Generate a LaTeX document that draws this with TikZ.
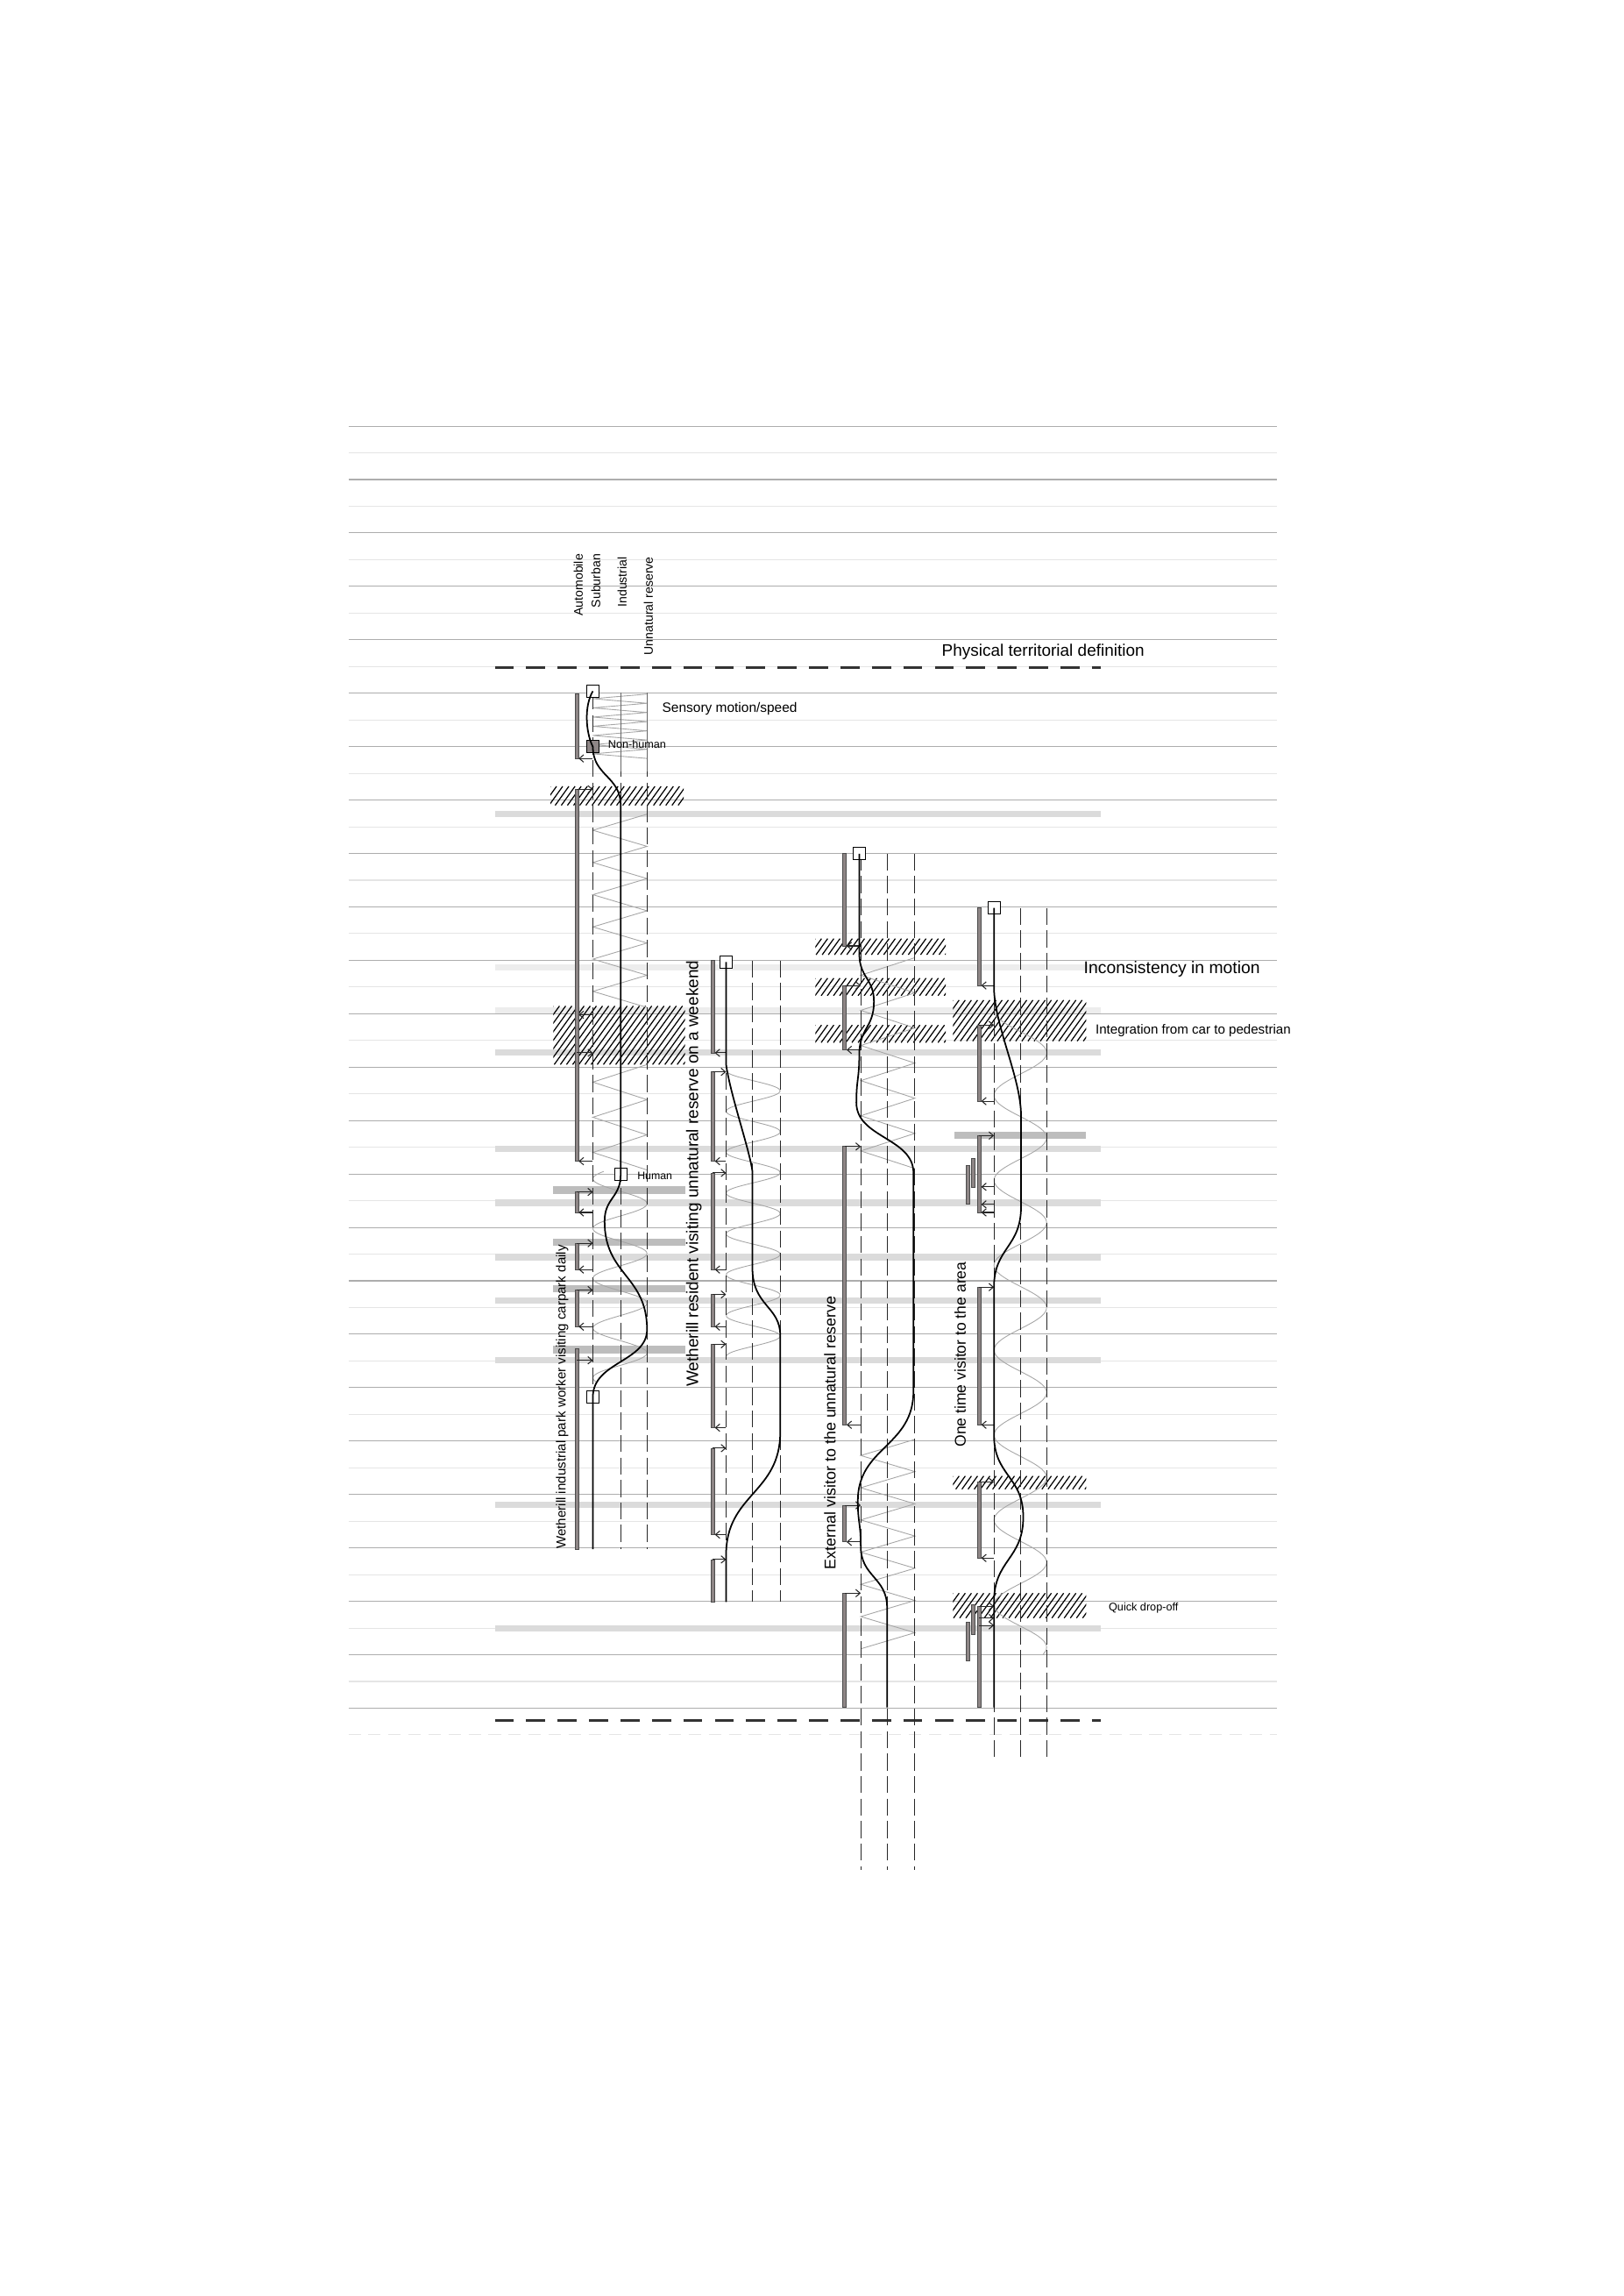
\documentclass[tikz,border=0pt]{standalone}
\usepackage{fontspec}
\setmainfont{Liberation Sans}
\usetikzlibrary{arrows.meta}

\definecolor{barfill}{HTML}{8E8686}

% car bar and its hand-overs to the suburban lane
\newcommand\carbar[3]{\filldraw[carbar] (#1-1.2,#2) rectangle (#1+1.2,#3);}
\newcommand\carout[3]{\draw[conn] (#1,#3) -- (#2,#3);}
\newcommand\carin[3]{\draw[conn] (#2,#3) -- (#1+1.3,#3);}
% hatched zone
\newcommand\hatchbox[4]{%
  \begin{scope}
    \clip (#1,#2) rectangle (#3,#4);
    \pgfmathsetmacro\hA{#1-0.72*(#4-#2)}
    \pgfmathsetmacro\hB{\hA+4.2}
    \foreach \k in {\hA,\hB,...,#3}
      \draw[hatchline] (\k,#4) -- ++({0.72*(#4-#2)},{-(#4-#2)});
  \end{scope}}
% sensory waves between suburban and reserve lanes
\newcommand\zigzag[5]{%
  \pgfmathtruncatemacro\zzn{#5+1}
  \draw[wave] plot[variable=\t, domain=0:#5, samples=\zzn]
    ({(#1+#2)/2+(#2-#1)/2*cos(180*\t)}, {#3+#4*\t});}
\newcommand\sinewave[6]{%
  \draw[wave] plot[variable=\t, domain=#3:#4, samples=140, smooth]
    ({(#1+#2)/2+(#2-#1)/2*cos((\t-#6)/#5*360)}, {\t});}

\begin{document}
\begin{tikzpicture}[
    x=0.167mm, y=-0.167mm,
    gridmajor/.style={draw=black!32, line width=0.3pt},
    gridminor/.style={draw=black!10, line width=0.3pt},
    border/.style={draw=black!80, line width=0.75pt, dash pattern=on 6.2pt off 4pt},
    lane/.style={draw=black!85, line width=0.3pt, dash pattern=on 5.5pt off 1.8pt},
    band/.style={fill=black!14},
    bandpale/.style={fill=black!7},
    banddark/.style={fill=black!26},
    carbar/.style={fill=barfill, draw=black!70, line width=0.2pt},
    conn/.style={draw=black!85, line width=0.3pt, -{Straight Barb[length=1.4pt,width=2.4pt]}},
    route/.style={draw=black, line width=0.5pt},
    wave/.style={draw=black!35, line width=0.25pt},
    hatchline/.style={draw=black, line width=0.35pt},
    stopbox/.style={draw=black, line width=0.35pt, fill=white, minimum size=1.4mm, inner sep=0pt},
    label/.style={inner sep=0pt, text=black}
]
\useasboundingbox (0,0) rectangle (1109,1568);
\fill[white] (0,0) rectangle (1109,1568);

% ground lines
\foreach \k in {0,...,48} {
  \pgfmathsetmacro\yy{291+18.24*\k}
  \ifodd\k\relax
    \draw[gridminor] (238,\yy) -- (872,\yy);
  \else
    \draw[gridmajor] (238,\yy) -- (872,\yy);
  \fi
}
\draw[gridminor, dash pattern=on 4pt off 2.5pt] (238,1184.7) -- (872,1184.7);

% physical territorial definition
\draw[border] (338,456) -- (752,456);
\draw[border] (338,1175) -- (752,1175);

% bands
\foreach \y in {555.7,718.6,784.5,821.5,858.6,888,929,1027.6,1112}
  \fill[band] (338,\y-2.2) rectangle (752,\y+2.2);
\foreach \y in {660.5,690}
  \fill[bandpale] (338,\y-2.2) rectangle (752,\y+2.2);
\foreach \y in {812.7,848.5,880,921.7}
  \fill[banddark] (378,\y-2.5) rectangle (468,\y+2.5);
\fill[banddark] (652,773) rectangle (742,778);

% hatched zones
\hatchbox{376}{537}{467}{550}
\hatchbox{378}{687}{468}{727}
\hatchbox{557}{641}{646}{652}
\hatchbox{557}{668}{646}{680}
\hatchbox{557}{700}{646}{712}
\hatchbox{651}{683}{742}{711}
\hatchbox{651}{1008}{742}{1017}
\hatchbox{651}{1088}{742}{1105}

% waves
\zigzag{405}{442}{474}{3.14}{14}
\zigzag{405}{442}{556}{11}{12}
\zigzag{405}{442}{727}{12}{6}
\sinewave{405}{442}{800}{944}{34}{856}
\sinewave{496}{533}{731}{926}{27.9}{745}
\zigzag{588}{625}{654}{12}{12}
\zigzag{588}{625}{983}{11}{13}
\sinewave{679}{715}{690}{1130}{58}{719}

% lanes
\foreach \x in {405,424,442} \draw[lane] (\x,473) -- (\x,1058);
\foreach \x in {424,442} \draw[black!60, line width=0.25pt] (\x,473) -- (\x,527);
\foreach \x in {496,514,533} \draw[lane] (\x,656) -- (\x,1094);
\foreach \x in {588,606,625} \draw[lane] (\x,583) -- (\x,1277);
\foreach \x in {679,697,715} \draw[lane] (\x,620) -- (\x,1202);

% car bars, park worker
\carbar{394}{474}{518} \carin{394}{405}{518}
\carbar{394}{539}{793} \carout{394}{405}{539} \carin{394}{405}{693}
\carout{394}{405}{719} \carin{394}{405}{793}
\carbar{394}{814}{828} \carout{394}{405}{814} \carin{394}{405}{828}
\carbar{394}{849}{867} \carout{394}{405}{849} \carin{394}{405}{867}
\carbar{394}{881}{906} \carout{394}{405}{881} \carin{394}{405}{906}
\carbar{394}{921}{1058} \carout{394}{405}{929}
% car bars, resident
\carbar{487}{656}{719} \carin{487}{496}{719}
\carbar{487}{732}{793} \carout{487}{496}{732} \carin{487}{496}{793}
\carbar{487}{801}{867} \carout{487}{496}{801} \carin{487}{496}{867}
\carbar{487}{884}{906} \carout{487}{496}{884} \carin{487}{496}{906}
\carbar{487}{918}{975} \carout{487}{496}{918} \carin{487}{496}{975}
\carbar{487}{989}{1048} \carout{487}{496}{989} \carin{487}{496}{1048}
\carbar{487}{1065}{1094} \carout{487}{496}{1065}
% car bars, external visitor
\carbar{577}{583}{646} \carin{577}{588}{646}
\carbar{577}{673}{717} \carout{577}{588}{673} \carin{577}{588}{717}
\carbar{577}{783}{973} \carout{577}{588}{783} \carin{577}{588}{973}
\carbar{577}{1028}{1053} \carout{577}{588}{1028} \carin{577}{588}{1053}
\carbar{577}{1088}{1166} \carout{577}{588}{1088}
% car bars, one time visitor
\carbar{669}{620}{673} \carin{669}{679}{673}
\carbar{669}{700}{752} \carout{669}{679}{700} \carin{669}{679}{752}
\carbar{669}{775.5}{828} \carout{669}{679}{775.5} \carin{669}{679}{810.5}
\carin{669}{679}{822.5} \carin{669}{679}{828}
\carbar{665}{791}{811} \carbar{661}{796}{822}
\carbar{669}{879}{973} \carout{669}{679}{879} \carin{669}{679}{973}
\carbar{669}{1012}{1064} \carout{669}{679}{1012} \carin{669}{679}{1064}
\carbar{669}{1097}{1166} \carout{669}{679}{1097} \carout{669}{679}{1105} \carout{669}{679}{1110}
\carbar{665}{1096}{1116} \carbar{661}{1108}{1134}

% stops
\node[stopbox] (wkstart) at (405,472) {};
\node[stopbox, fill=barfill] (wknonhuman) at (405,510) {};
\node[stopbox] (wkhuman) at (424,802) {};
\node[stopbox] (wkend) at (405,954) {};
\node[stopbox] (rsstart) at (496,657) {};
\node[stopbox] (exstart) at (587,583) {};
\node[stopbox] (otstart) at (679,620) {};

% routes
\draw[route] (wkstart.center) .. controls (399,482) and (400,500) .. (wknonhuman.center)
  .. controls (405,530) and (424,530) .. (424,550) -- (wkhuman.center)
  .. controls (424,818) and (413,818) .. (413,834)
  .. controls (413,871) and (442,871) .. (442,908)
  .. controls (442,930) and (405,930) .. (wkend.center) -- (405,1058);
\draw[route] (rsstart.center) -- (496,727) .. controls (499,748) and (512,785) .. (514,800)
  -- (514,866) .. controls (514,892) and (533,892) .. (533,912)
  -- (533,978) .. controls (533,1020) and (496,1020) .. (496,1062) -- (496,1094);
\draw[route] (exstart.center) -- (587,651) .. controls (587,668) and (597,668) .. (597,684)
  .. controls (597,702) and (587,702) .. (587,720)
  .. controls (587,737) and (585,737) .. (585,753)
  .. controls (585,777) and (624,777) .. (624,801) -- (624,950)
  .. controls (624,988) and (586,988) .. (586,1025)
  .. controls (586,1040) and (588,1040) .. (588,1056)
  .. controls (588,1077) and (606,1077) .. (606,1098) -- (606,1166);
\draw[route] (otstart.center) -- (679,674) .. controls (679,700) and (697.5,736) .. (697.5,762)
  -- (697.5,824) .. controls (697.5,852) and (679,852) .. (679,879)
  -- (679,980) .. controls (679,1008) and (699,1008) .. (699,1036)
  .. controls (699,1065) and (679,1065) .. (679,1094) -- (679,1166);

% lane heads
\node[label, rotate=90, anchor=east, font=\fontsize{4}{5}\selectfont] (colauto) at (395,378) {Automobile};
\node[label, rotate=90, anchor=east, font=\fontsize{4}{5}\selectfont] (colsub) at (407,378) {Suburban};
\node[label, rotate=90, anchor=east, font=\fontsize{4}{5}\selectfont] (colind) at (425,380) {Industrial};
\node[label, rotate=90, anchor=east, font=\fontsize{4}{5}\selectfont] (colres) at (443,380) {Unnatural reserve};

% notes
\node[label, anchor=west, font=\fontsize{5.4}{6}\selectfont] (physical) at (643,445) {Physical territorial definition};
\node[label, anchor=west, font=\fontsize{4.4}{5}\selectfont] (sensory) at (452,484) {Sensory motion/speed};
\node[label, anchor=west, font=\fontsize{3.6}{4}\selectfont] (nonhuman) at (415,508) {Non-human};
\node[label, anchor=west, font=\fontsize{3.5}{4}\selectfont] (human) at (435,803) {Human};
\node[label, anchor=west, font=\fontsize{5.5}{6}\selectfont] (inconsistency) at (740,662) {Inconsistency in motion};
\node[label, anchor=west, font=\fontsize{4.3}{5}\selectfont] (integration) at (748,704) {Integration from car to pedestrian};
\node[label, anchor=west, font=\fontsize{3.6}{4}\selectfont] (dropoff) at (757,1098) {Quick drop-off};

% personas
\node[label, rotate=90, font=\fontsize{4.3}{5}\selectfont] (worker) at (384,954) {Wetherill industrial park worker visiting carpark daily};
\node[label, rotate=90, font=\fontsize{5.4}{6}\selectfont] (resident) at (474,801.5) {Wetherill resident visiting unnatural reserve on a weekend};
\node[label, rotate=90, font=\fontsize{5.1}{6}\selectfont] (external) at (567,978.5) {External visitor to the unnatural reserve};
\node[label, rotate=90, font=\fontsize{5}{6}\selectfont] (onetime) at (656,925) {One time visitor to the area};
\end{tikzpicture}
\end{document}
